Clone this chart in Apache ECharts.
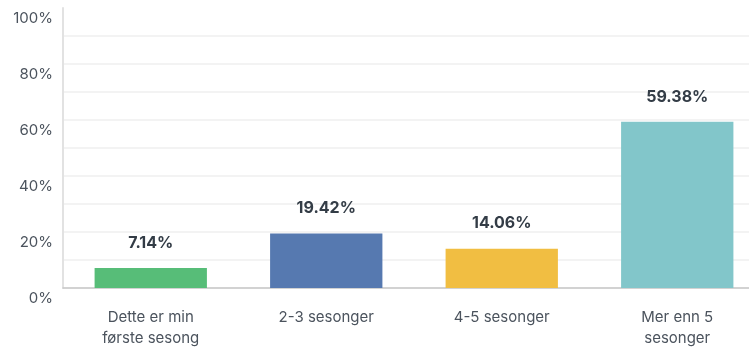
<!DOCTYPE html>
<html>
<head>
<meta charset="utf-8">
<script src="https://cdn.jsdelivr.net/npm/echarts@6/dist/echarts.min.js"></script>
<style>
  html, body { margin: 0; padding: 0; background: #fff; overflow: hidden; }
  /* the plot runs a little past the right edge of the window */
  #chart { width: 765px; height: 350px; }
</style>
</head>
<body>
<div id="chart"></div>
<script>
// Answer categories (how many seasons) and their share of respondents
const categories = ['Dette er min\nførste sesong', '2-3 sesonger', '4-5 sesonger', 'Mer enn 5\nsesonger'];
const shares = [7.14, 19.42, 14.06, 59.38];
const barColors = ['#57bd78', '#5679b0', '#f1be42', '#82c6ca'];
const yTicks = [0, 20, 40, 60, 80, 100];

const chart = echarts.init(document.getElementById('chart'), null, { renderer: 'canvas' });

const fontFamily = 'Inter, "Open Sans", sans-serif';

chart.setOption({
  animation: false,
  grid: { left: 63, top: 8, right: 0, bottom: 62, containLabel: false },
  xAxis: {
    type: 'category',
    data: categories,
    axisLine: { show: true, lineStyle: { color: '#c8c8c8', width: 1.5 } },
    axisTick: { show: false },
    axisLabel: {
      interval: 0,
      margin: 19,
      color: '#4b535d',
      fontSize: 15,
      lineHeight: 21,
      verticalAlign: 'top',
      fontFamily: fontFamily
    }
  },
  yAxis: {
    type: 'value',
    min: 0,
    max: 100,
    interval: 10,
    axisLine: { show: true, lineStyle: { color: '#e2e2e2', width: 2 } },
    axisTick: { show: false },
    splitLine: { show: true, showMaxLine: false, lineStyle: { color: '#efefef', width: 1.5 } },
    axisLabel: {
      margin: 10,
      color: '#4b535d',
      fontSize: 15,
      fontFamily: fontFamily,
      verticalAlign: 'top',
      lineHeight: 20,
      formatter: function (v) {
        return yTicks.indexOf(v) >= 0 ? v + '%' : '';
      }
    }
  },
  series: [{
    type: 'bar',
    barWidth: '64%',
    data: shares.map(function (v, i) {
      return { value: v, itemStyle: { color: barColors[i] } };
    }),
    label: {
      show: true,
      position: 'top',
      distance: 17,
      color: '#333c46',
      fontSize: 16,
      fontWeight: 'bold',
      fontFamily: fontFamily,
      formatter: function (p) { return p.value.toFixed(2) + '%'; }
    }
  }]
});
</script>
</body>
</html>
